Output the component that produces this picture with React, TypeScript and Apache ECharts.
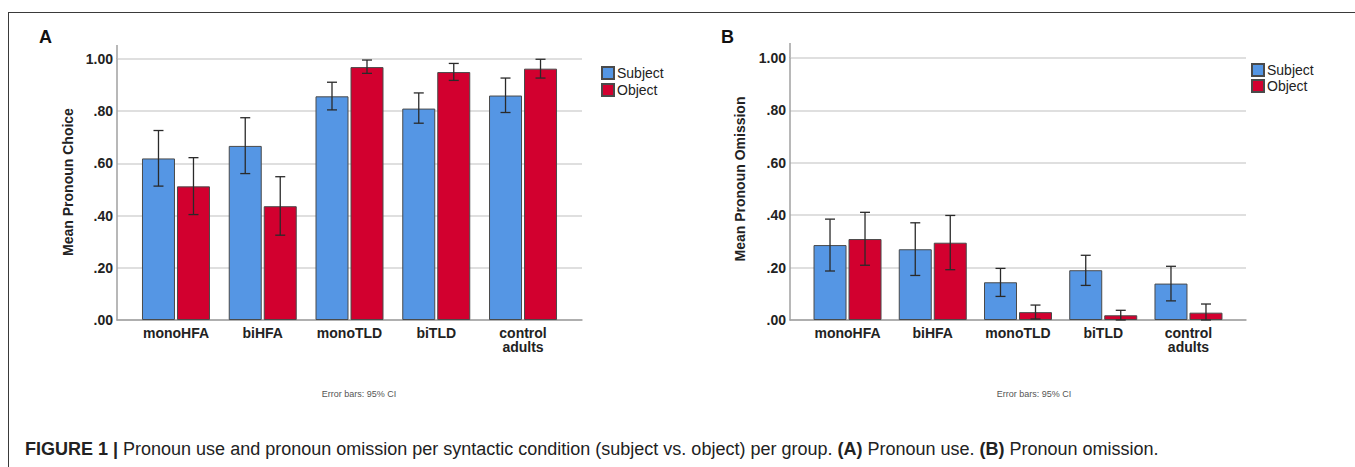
import React, { useEffect, useRef } from "react";
import * as echarts from "echarts";

const categories = ["monoHFA", "biHFA", "monoTLD", "biTLD", "control\nadults"];
const seriesNames = ["Subject", "Object"];
const yTicks = [0, 0.2, 0.4, 0.6, 0.8, 1.0];

// Panel A: Mean Pronoun Choice
const choiceSubject = [0.619, 0.667, 0.857, 0.81, 0.86];
const choiceSubjectLow = [0.513, 0.561, 0.805, 0.754, 0.795];
const choiceSubjectHigh = [0.726, 0.775, 0.911, 0.87, 0.927];
const choiceObject = [0.512, 0.436, 0.969, 0.95, 0.963];
const choiceObjectLow = [0.404, 0.325, 0.945, 0.918, 0.927];
const choiceObjectHigh = [0.622, 0.549, 0.996, 0.983, 0.999];

// Panel B: Mean Pronoun Omission
const omissionSubject = [0.286, 0.27, 0.144, 0.19, 0.139];
const omissionSubjectLow = [0.187, 0.17, 0.09, 0.132, 0.073];
const omissionSubjectHigh = [0.385, 0.371, 0.197, 0.247, 0.205];
const omissionObject = [0.309, 0.295, 0.03, 0.018, 0.028];
const omissionObjectLow = [0.209, 0.192, 0.004, 0.0, 0.0];
const omissionObjectHigh = [0.411, 0.399, 0.057, 0.037, 0.061];

const BLUE = "#5596e4";
const RED = "#d2002f";
const FONT = "'Liberation Sans', Arial, Helvetica, sans-serif";
const W = 1355;
const H = 467;
const BAR_W = 33;
const BAR_GAP = 2;

function fmtTick(v: number) {
  if (Math.abs(v - 1) < 1e-9) return "1.00";
  return v.toFixed(2).replace(/^0/, "");
}

function errorSeries(gridIdx: number, low: number[], high: number[], offset: number) {
  return {
    type: "custom",
    xAxisIndex: gridIdx,
    yAxisIndex: gridIdx,
    z: 10,
    silent: true,
    data: low.map((l, i) => [i, l, high[i]]),
    encode: { x: 0, y: [1, 2] },
    renderItem: (params: any, api: any) => {
      const i = api.value(0);
      const lo = api.coord([i, api.value(1)]);
      const hi = api.coord([i, api.value(2)]);
      const x = lo[0] + offset;
      const cap = 5;
      const st = { stroke: "#2a2a2a", lineWidth: 1.3 };
      return {
        type: "group",
        children: [
          { type: "line", shape: { x1: x, y1: lo[1], x2: x, y2: hi[1] }, style: st },
          { type: "line", shape: { x1: x - cap, y1: lo[1], x2: x + cap, y2: lo[1] }, style: st },
          { type: "line", shape: { x1: x - cap, y1: hi[1], x2: x + cap, y2: hi[1] }, style: st },
        ],
      };
    },
  };
}

function barSeries(name: string, gridIdx: number, data: number[], color: string) {
  return {
    name,
    type: "bar",
    xAxisIndex: gridIdx,
    yAxisIndex: gridIdx,
    data,
    barWidth: BAR_W,
    barGap: `${(BAR_GAP / BAR_W) * 100}%`,
    itemStyle: { color, borderColor: "#4a4a4a", borderWidth: 1 },
    z: 5,
  };
}

export default function App() {
  const ref = useRef<HTMLDivElement>(null);

  useEffect(() => {
    if (!ref.current) return;
    const chart = echarts.init(ref.current, undefined, { renderer: "svg" });

    // panel geometry (page px)
    const A = { axL: 117, axR: 582, top: 59, bottom: 320, barL: 132.6, barR: 566.4 };
    const B = { axL: 790, axR: 1246, top: 58, bottom: 320, barL: 804.9, barR: 1231.1 };

    const frameGrid = (p: any) => ({ left: p.axL, right: W - p.axR, top: p.top, bottom: H - p.bottom });
    const barGrid = (p: any) => ({ left: p.barL, right: W - p.barR, top: p.top, bottom: H - p.bottom });

    const frameX = (gi: number) => ({
      type: "value",
      gridIndex: gi,
      min: 0,
      max: 1,
      axisLine: { show: true, onZero: false, lineStyle: { color: "#a0a0a0", width: 1.5 } },
      axisTick: { show: false },
      axisLabel: { show: false },
      splitLine: { show: false },
    });
    const frameY = (gi: number) => ({
      type: "value",
      gridIndex: gi,
      min: 0,
      max: 1,
      interval: 0.2,
      axisLine: { show: true, lineStyle: { color: "#a0a0a0", width: 1.5 } },
      axisTick: { show: false },
      axisLabel: {
        margin: 4,
        fontSize: 14,
        fontWeight: "bold",
        color: "#222",
        fontFamily: FONT,
        formatter: (v: number) => (yTicks.some((t) => Math.abs(t - v) < 1e-9) ? fmtTick(v) : ""),
      },
      splitLine: { show: true, lineStyle: { color: "#d4d4d4", width: 1.5 } },
    });
    const barX = (gi: number) => ({
      type: "category",
      gridIndex: gi,
      data: categories,
      axisLine: { show: false },
      axisTick: { show: false },
      axisLabel: {
        margin: 6,
        fontSize: 14,
        fontWeight: "bold",
        color: "#222",
        lineHeight: 14,
        fontFamily: FONT,
        interval: 0,
      },
    });
    const barY = (gi: number) => ({
      type: "value",
      gridIndex: gi,
      min: 0,
      max: 1,
      show: false,
      splitLine: { show: false },
    });

    const legend = (left: number, top: number, gap: number) => ({
      data: seriesNames,
      orient: "vertical",
      left,
      top,
      padding: 0,
      itemGap: gap,
      itemWidth: 12,
      itemHeight: 12,
      icon: "rect",
      selectedMode: false,
      textStyle: { fontSize: 14, color: "#222", fontFamily: FONT, padding: [0, 0, 0, -2] },
    });

    const txt = (x: number, y: number, text: string, style: any, extra: any = {}) => ({
      type: "text",
      x,
      y,
      silent: true,
      ...extra,
      style: { text, fontFamily: FONT, fill: "#222", ...style },
    });

    const caption =
      "{b|FIGURE 1 |} Pronoun use and pronoun omission per syntactic condition (subject vs. object) per group. {b|(A)} Pronoun use. {b|(B)} Pronoun omission.";

    chart.setOption({
      animation: false,
      textStyle: { fontFamily: FONT },
      grid: [frameGrid(A), barGrid(A), frameGrid(B), barGrid(B)],
      xAxis: [frameX(0), barX(1), frameX(2), barX(3)],
      yAxis: [frameY(0), barY(1), frameY(2), barY(3)],
      legend: [legend(601, 66, 3), legend(1251, 63, 2)],
      series: [
        barSeries("Subject", 1, choiceSubject, BLUE),
        barSeries("Object", 1, choiceObject, RED),
        errorSeries(1, choiceSubjectLow, choiceSubjectHigh, -(BAR_W + BAR_GAP) / 2),
        errorSeries(1, choiceObjectLow, choiceObjectHigh, (BAR_W + BAR_GAP) / 2),
        barSeries("Subject", 3, omissionSubject, BLUE),
        barSeries("Object", 3, omissionObject, RED),
        errorSeries(3, omissionSubjectLow, omissionSubjectHigh, -(BAR_W + BAR_GAP) / 2),
        errorSeries(3, omissionObjectLow, omissionObjectHigh, (BAR_W + BAR_GAP) / 2),
      ],
      graphic: [
        // figure frame
        { type: "line", silent: true, shape: { x1: 8, y1: 12.5, x2: W, y2: 12.5 }, style: { stroke: "#3a3a3a", lineWidth: 1 } },
        { type: "line", silent: true, shape: { x1: 8.5, y1: 12, x2: 8.5, y2: H }, style: { stroke: "#3a3a3a", lineWidth: 1 } },
        // y-axis top extensions
        { type: "line", silent: true, shape: { x1: A.axL, y1: 45, x2: A.axL, y2: A.top }, style: { stroke: "#a0a0a0", lineWidth: 1.5 } },
        { type: "line", silent: true, shape: { x1: B.axL, y1: 43, x2: B.axL, y2: B.top }, style: { stroke: "#a0a0a0", lineWidth: 1.5 } },
        // panel letters
        txt(39, 37, "A", { fontSize: 18, fontWeight: "bold", fill: "#111", verticalAlign: "middle" }),
        txt(721, 37, "B", { fontSize: 18, fontWeight: "bold", fill: "#111", verticalAlign: "middle" }),
        // y-axis titles
        txt(68, 182, "Mean Pronoun Choice", { fontSize: 14, fontWeight: "bold", align: "center", verticalAlign: "middle" }, { rotation: Math.PI / 2 }),
        txt(740, 179, "Mean Pronoun Omission", { fontSize: 14, fontWeight: "bold", align: "center", verticalAlign: "middle" }, { rotation: Math.PI / 2 }),
        // footnotes
        txt(359, 394, "Error bars: 95% CI", { fontSize: 9, fill: "#555", align: "center", verticalAlign: "middle" }),
        txt(1034, 394, "Error bars: 95% CI", { fontSize: 9, fill: "#555", align: "center", verticalAlign: "middle" }),
        // caption
        txt(25, 449, caption, {
          fontSize: 18,
          fill: "#222",
          verticalAlign: "middle",
          rich: { b: { fontSize: 18, fontWeight: "bold", fill: "#222", fontFamily: FONT } },
        }),
      ],
    });

    return () => chart.dispose();
  }, []);

  return (
    <div
      ref={ref}
      style={{ position: "fixed", left: 0, top: 0, width: W, height: H, background: "#fff" }}
    />
  );
}
